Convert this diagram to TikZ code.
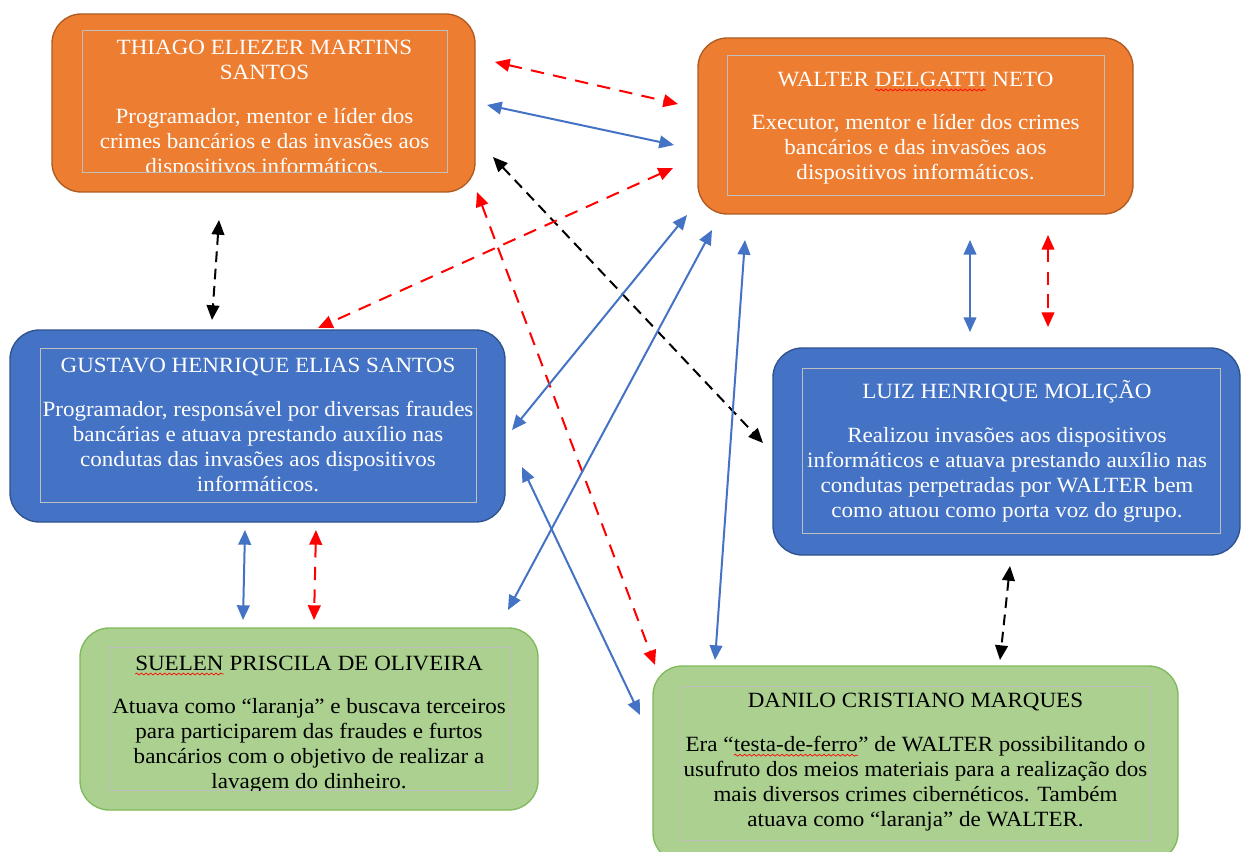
\documentclass[tikz,border=0pt]{standalone}
\usepackage{fontspec}
\setmainfont{Liberation Serif}[FakeStretch=1.06]
\usetikzlibrary{arrows.meta,decorations.pathmorphing}

\definecolor{orangefill}{HTML}{ED7D31}
\definecolor{orangeline}{HTML}{AE5A21}
\definecolor{bluefill}{HTML}{4472C4}
\definecolor{blueline}{HTML}{2F528F}
\definecolor{greenfill}{HTML}{ABD090}
\definecolor{greenline}{HTML}{7FBA5A}
\definecolor{framegray}{HTML}{BFBFBF}
\definecolor{linkblue}{HTML}{4472C4}

% red spell-check wave under a word
\newcommand\spellwave[1]{\tikz[baseline=(w.base)]{%
	\node[inner sep=0, outer sep=0] (w) {#1};
	\draw[red, line width=0.5pt, decorate, decoration={snake, amplitude=0.7pt, segment length=3.5pt}]
		([yshift=-3pt]w.base west) -- ([yshift=-3pt]w.base east);}}

\tikzset{
	box size/.style 2 args={minimum width=#1*0.75pt, minimum height=#2*0.75pt},
	person/.style={rounded corners=22pt, line width=1pt, inner sep=0, outer sep=0},
	orangebox/.style={person, fill=orangefill, draw=orangeline},
	bluebox/.style={person, fill=bluefill, draw=blueline},
	greenbox/.style={person, fill=greenfill, draw=greenline},
	frame/.style={draw=framegray, line width=0.6pt, inner sep=0, outer sep=0},
	info/.style={align=center, inner sep=0, font=\fontsize{16.3}{18.75}\selectfont},
	link/.style={line width=1.5pt, {Triangle[length=11pt,width=9.5pt]}-{Triangle[length=11pt,width=9.5pt]}},
	bluelink/.style={link, draw=linkblue},
	redlink/.style={link, draw=red, dash pattern=on 10pt off 7pt},
	blacklink/.style={link, draw=black, dash pattern=on 8pt off 5pt}
}

\begin{document}
\begin{tikzpicture}[x=0.75pt, y=-0.75pt]
	\useasboundingbox (0,0) rectangle (1242,852);

	%boxes
	\node[orangebox, box size={423}{178}] (thiago)  at (263.5,103)  {};
	\node[orangebox, box size={435}{176}] (walter)  at (915.5,126)  {};
	\node[bluebox,   box size={495}{192}] (gustavo) at (257.5,426)  {};
	\node[bluebox,   box size={467}{207}] (luiz)    at (1006.5,451.5) {};
	\node[greenbox,  box size={458}{182}] (suelen)  at (309,719)    {};
	\node[greenbox,  box size={525}{196}] (danilo)  at (915.5,764)  {};

	%frames
	\node[frame, box size={365}{142}] (thiago frame)  at ([shift={(1,-2)}]thiago.center)   {};
	\node[frame, box size={377}{140}] (walter frame)  at ([shift={(0,-1)}]walter.center)   {};
	\node[frame, box size={436}{154}] (gustavo frame) at ([shift={(0.5,-1)}]gustavo.center) {};
	\node[frame, box size={418}{165}] (luiz frame)    at ([shift={(4.5,-1)}]luiz.center)   {};
	\node[frame, box size={402}{143}] (suelen frame)  at ([shift={(0,-0.5)}]suelen.center) {};
	\node[frame, box size={469}{154}] (danilo frame)  at ([shift={(0,-1)}]danilo.center)   {};

	%texts
	\begin{scope}
		\clip (thiago frame.south west) rectangle (thiago frame.north east);
		\node[info, text=white] (thiago text) at ([shift={(0,8)}]thiago frame.center)
			{THIAGO ELIEZER MARTINS\\ SANTOS\\[14pt]
			Programador, mentor e líder dos\\ crimes bancários e das invasões aos\\ dispositivos informáticos.};
	\end{scope}
	\node[info, text=white] (walter text) at ([shift={(0,3)}]walter frame.center)
		{WALTER \spellwave{DELGATTI} NETO\\[14pt]
		Executor, mentor e líder dos crimes\\ bancários e das invasões aos\\ dispositivos informáticos.};
	\node[info, text=white] (gustavo text) at (gustavo frame.center)
		{GUSTAVO HENRIQUE ELIAS SANTOS\\[14pt]
		Programador, responsável por diversas fraudes\\ bancárias e atuava prestando auxílio nas\\
		condutas das invasões aos dispositivos\\ informáticos.};
	\node[info, text=white] (luiz text) at ([shift={(-4,1)}]luiz frame.center)
		{LUIZ HENRIQUE MOLIÇÃO\\[14pt]
		Realizou invasões aos dispositivos\\ informáticos e atuava prestando auxílio nas\\
		condutas perpetradas por WALTER bem\\ como atuou como porta voz do grupo.};
	\begin{scope}
		\clip (suelen frame.south west) rectangle (suelen frame.north east);
		\node[info, text=black] (suelen text) at ([shift={(0,6)}]suelen frame.center)
			{\spellwave{SUELEN} PRISCILA DE OLIVEIRA\\[14pt]
			Atuava como “laranja” e buscava terceiros\\ para participarem das fraudes e furtos\\
			bancários com o objetivo de realizar a\\ lavagem do dinheiro.};
	\end{scope}
	\node[info, text=black] (danilo text) at ([shift={(0,-1)}]danilo frame.center)
		{DANILO CRISTIANO MARQUES\\[14pt]
		Era “\spellwave{testa-de-ferro}” de WALTER possibilitando o\\ usufruto dos meios materiais para a realização dos\\
		mais diversos crimes cibernéticos. Também\\ atuava como “laranja” de WALTER.};

	%arrows
	\draw[redlink]   ([shift={(20,-41)}]thiago.east) -- ([shift={(-20,-22)}]walter.west);
	\draw[bluelink]  ([shift={(12,2)}]thiago.east) -- ([shift={(-24,19)}]walter.west);
	\draw[blacklink] ([shift={(18,54)}]thiago.east) -- ([shift={(-10,-8.5)}]luiz.west);
	\draw[redlink]   ([shift={(-25,42)}]walter.west) -- ([shift={(60.5,-2)}]gustavo.north);
	\draw[redlink]   ([shift={(2,0)}]thiago.south east) -- ([shift={(2,-1)}]danilo.north west);
	\draw[blacklink] ([shift={(-44.5,28)}]thiago.south) -- ([shift={(-45.5,-10)}]gustavo.north);
	\draw[bluelink]  ([shift={(-11,1)}]walter.south west) -- ([shift={(7,4)}]gustavo.east);
	\draw[bluelink]  ([shift={(14,16)}]walter.south west) -- ([shift={(-30,-18)}]suelen.north east);
	\draw[bluelink]  ([shift={(47,26)}]walter.south west) -- ([shift={(62,-6)}]danilo.north west);
	\draw[bluelink]  ([shift={(54.5,26)}]walter.south) -- ([shift={(-36.5,-16)}]luiz.north);
	\draw[redlink]   ([shift={(132.5,21)}]walter.south) -- ([shift={(41.5,-21)}]luiz.north);
	\draw[bluelink]  ([shift={(17,41)}]gustavo.east) -- ([shift={(-13,-49)}]danilo.west);
	\draw[bluelink]  ([shift={(-12.5,8)}]gustavo.south) -- ([shift={(-66,-8)}]suelen.north);
	\draw[redlink]   ([shift={(58.5,8)}]gustavo.south) -- ([shift={(5,-8)}]suelen.north);
	\draw[blacklink] ([shift={(3.5,11)}]luiz.south) -- ([shift={(84.5,-6)}]danilo.north);
\end{tikzpicture}
\end{document}
